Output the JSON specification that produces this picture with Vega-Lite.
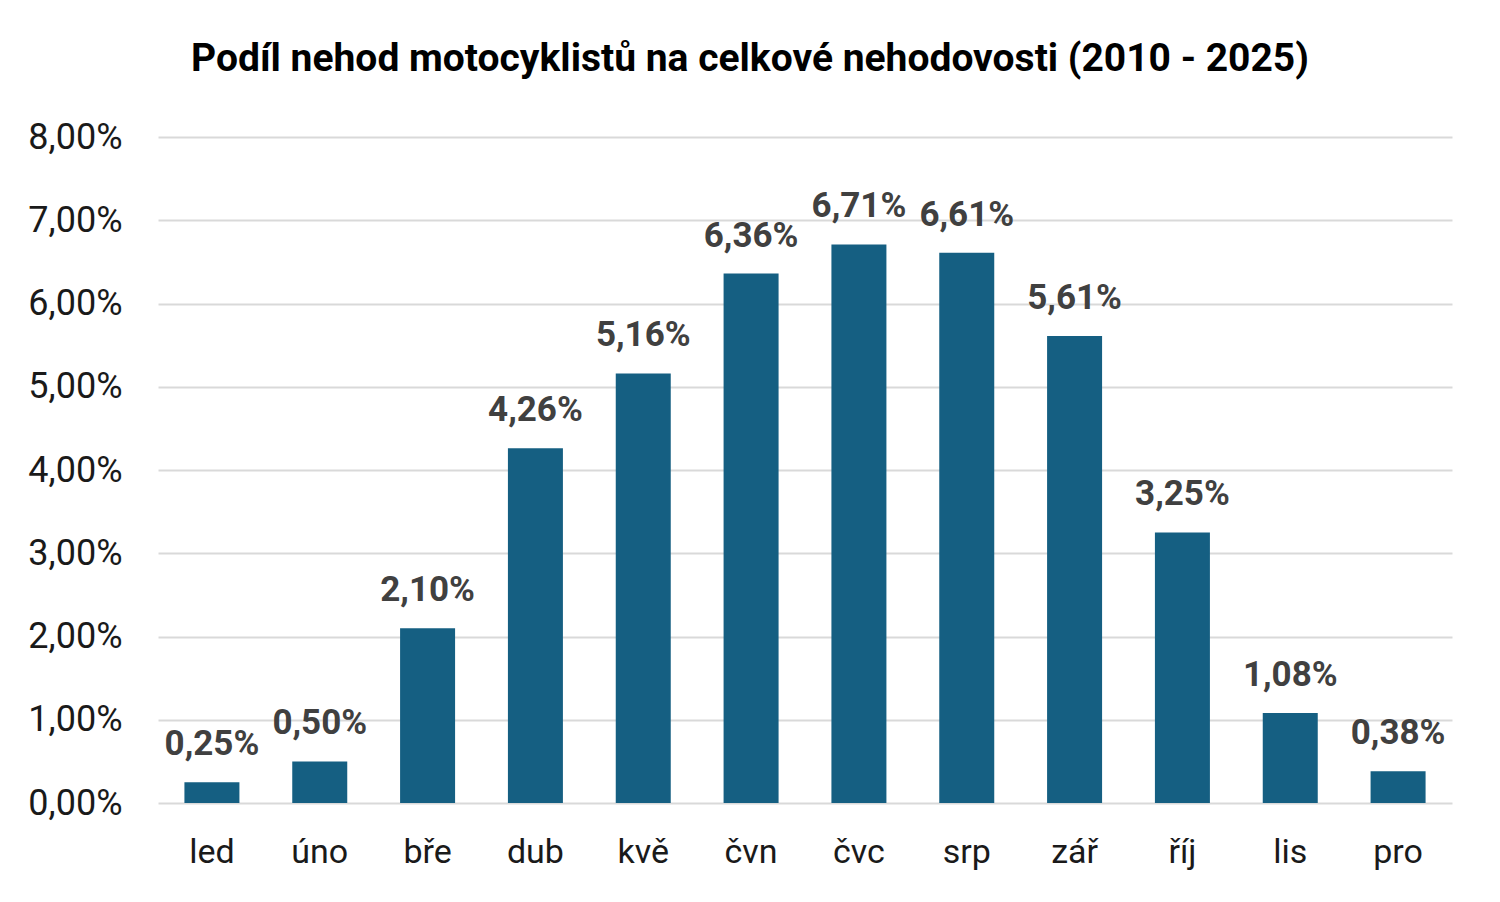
{
  "$schema": "https://vega.github.io/schema/vega-lite/v6.json",
  "width": 1294,
  "height": 666,
  "autosize": {"type": "none"},
  "padding": {"left": 158, "top": 137, "right": 48, "bottom": 99},
  "background": "white",
  "title": {
    "text": "Podíl nehod motocyklistů na celkové nehodovosti (2010 - 2025)",
    "font": "Roboto",
    "fontSize": 39,
    "fontWeight": "bold",
    "color": "#000000",
    "anchor": "middle",
    "dx": -55,
    "offset": 40
  },
  "data": {
    "values": [
      {"mesic": "led", "podil": 0.0025},
      {"mesic": "úno", "podil": 0.0050},
      {"mesic": "bře", "podil": 0.0210},
      {"mesic": "dub", "podil": 0.0426},
      {"mesic": "kvě", "podil": 0.0516},
      {"mesic": "čvn", "podil": 0.0636},
      {"mesic": "čvc", "podil": 0.0671},
      {"mesic": "srp", "podil": 0.0661},
      {"mesic": "zář", "podil": 0.0561},
      {"mesic": "říj", "podil": 0.0325},
      {"mesic": "lis", "podil": 0.0108},
      {"mesic": "pro", "podil": 0.0038}
    ]
  },
  "encoding": {
    "x": {
      "field": "mesic",
      "type": "nominal",
      "sort": null,
      "scale": {"paddingInner": 0.49, "paddingOuter": 0.245},
      "axis": {
        "title": null,
        "labelAngle": 0,
        "domain": false,
        "ticks": false,
        "labelFont": "Roboto",
        "labelFontSize": 34,
        "labelColor": "#1a1a1a",
        "labelPadding": 32
      }
    },
    "y": {
      "field": "podil",
      "type": "quantitative",
      "scale": {"domain": [0, 0.08]},
      "axis": {
        "title": null,
        "format": ".2%",
        "values": [0, 0.01, 0.02, 0.03, 0.04, 0.05, 0.06, 0.07, 0.08],
        "labelOverlap": false,
        "domain": false,
        "ticks": false,
        "grid": true,
        "gridColor": "#d9d9d9",
        "gridWidth": 2,
        "labelFont": "Roboto",
        "labelFontSize": 36,
        "labelColor": "#1a1a1a",
        "labelPadding": 36
      }
    }
  },
  "layer": [
    {
      "mark": {"type": "bar", "color": "#155f82"}
    },
    {
      "mark": {
        "type": "text",
        "baseline": "alphabetic",
        "dy": -27,
        "font": "Roboto",
        "fontSize": 35,
        "fontWeight": "bold",
        "color": "#404040"
      },
      "encoding": {
        "text": {"field": "podil", "type": "quantitative", "format": ".2%"}
      }
    }
  ],
  "config": {
    "view": {"stroke": null},
    "locale": {
      "number": {
        "decimal": ",",
        "thousands": " ",
        "grouping": [3],
        "currency": ["", " Kč"]
      }
    }
  }
}
